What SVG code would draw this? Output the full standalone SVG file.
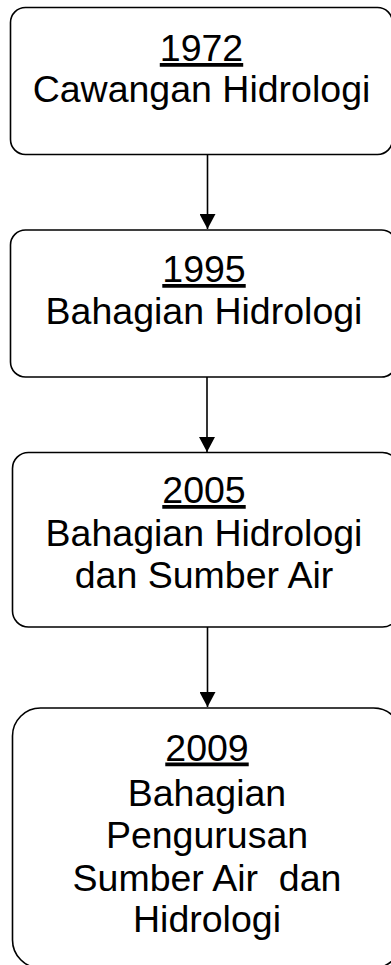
<svg xmlns="http://www.w3.org/2000/svg" width="391" height="965" viewBox="0 0 391 965">
<style>
.box{fill:#ffffff;stroke:#000000;stroke-width:1.6}
.t{font-family:"Liberation Sans",Arial,sans-serif;font-size:37.5px;fill:#000000;text-anchor:middle}
.yr{text-decoration:underline}
.conn{stroke:#000000;stroke-width:1.6;fill:none}
</style>
<defs>
<marker id="ah" markerUnits="userSpaceOnUse" viewBox="0 0 15 16" refX="15" refY="8" markerWidth="15" markerHeight="16" orient="auto">
<path d="M0,0 L15,8 L0,16 Z" fill="#000000"/>
</marker>
</defs>
<rect width="391" height="965" fill="#ffffff"/>
<g id="connectors">
<path class="conn" d="M207.5,155 L207.5,229" marker-end="url(#ah)"/>
<path class="conn" d="M207,377 L207,452" marker-end="url(#ah)"/>
<path class="conn" d="M207.5,627 L207.5,707" marker-end="url(#ah)"/>
</g>
<g id="node1972">
<rect class="box" x="10.5" y="7.5" width="382" height="147" rx="15" ry="15"/>
<text class="t yr" x="201.5" y="61">1972</text>
<text class="t" x="201.5" y="101.5">Cawangan Hidrologi</text>
</g>
<g id="node1995">
<rect class="box" x="10.5" y="230" width="386" height="147" rx="15" ry="15"/>
<text class="t yr" x="204" y="282">1995</text>
<text class="t" x="204" y="323.5">Bahagian Hidrologi</text>
</g>
<g id="node2005">
<rect class="box" x="12.5" y="452.5" width="386" height="174.5" rx="16" ry="16"/>
<text class="t yr" x="204" y="503">2005</text>
<text class="t" x="204" y="546">Bahagian Hidrologi</text>
<text class="t" x="204" y="588">dan Sumber Air</text>
</g>
<g id="node2009">
<rect class="box" x="12.5" y="708" width="389" height="260" rx="28" ry="28"/>
<text class="t yr" x="207" y="760.5">2009</text>
<text class="t" x="207" y="805.5">Bahagian</text>
<text class="t" x="207" y="848">Pengurusan</text>
<text class="t" x="207" y="891" xml:space="preserve">Sumber Air  dan</text>
<text class="t" x="207" y="932">Hidrologi</text>
</g>
</svg>
